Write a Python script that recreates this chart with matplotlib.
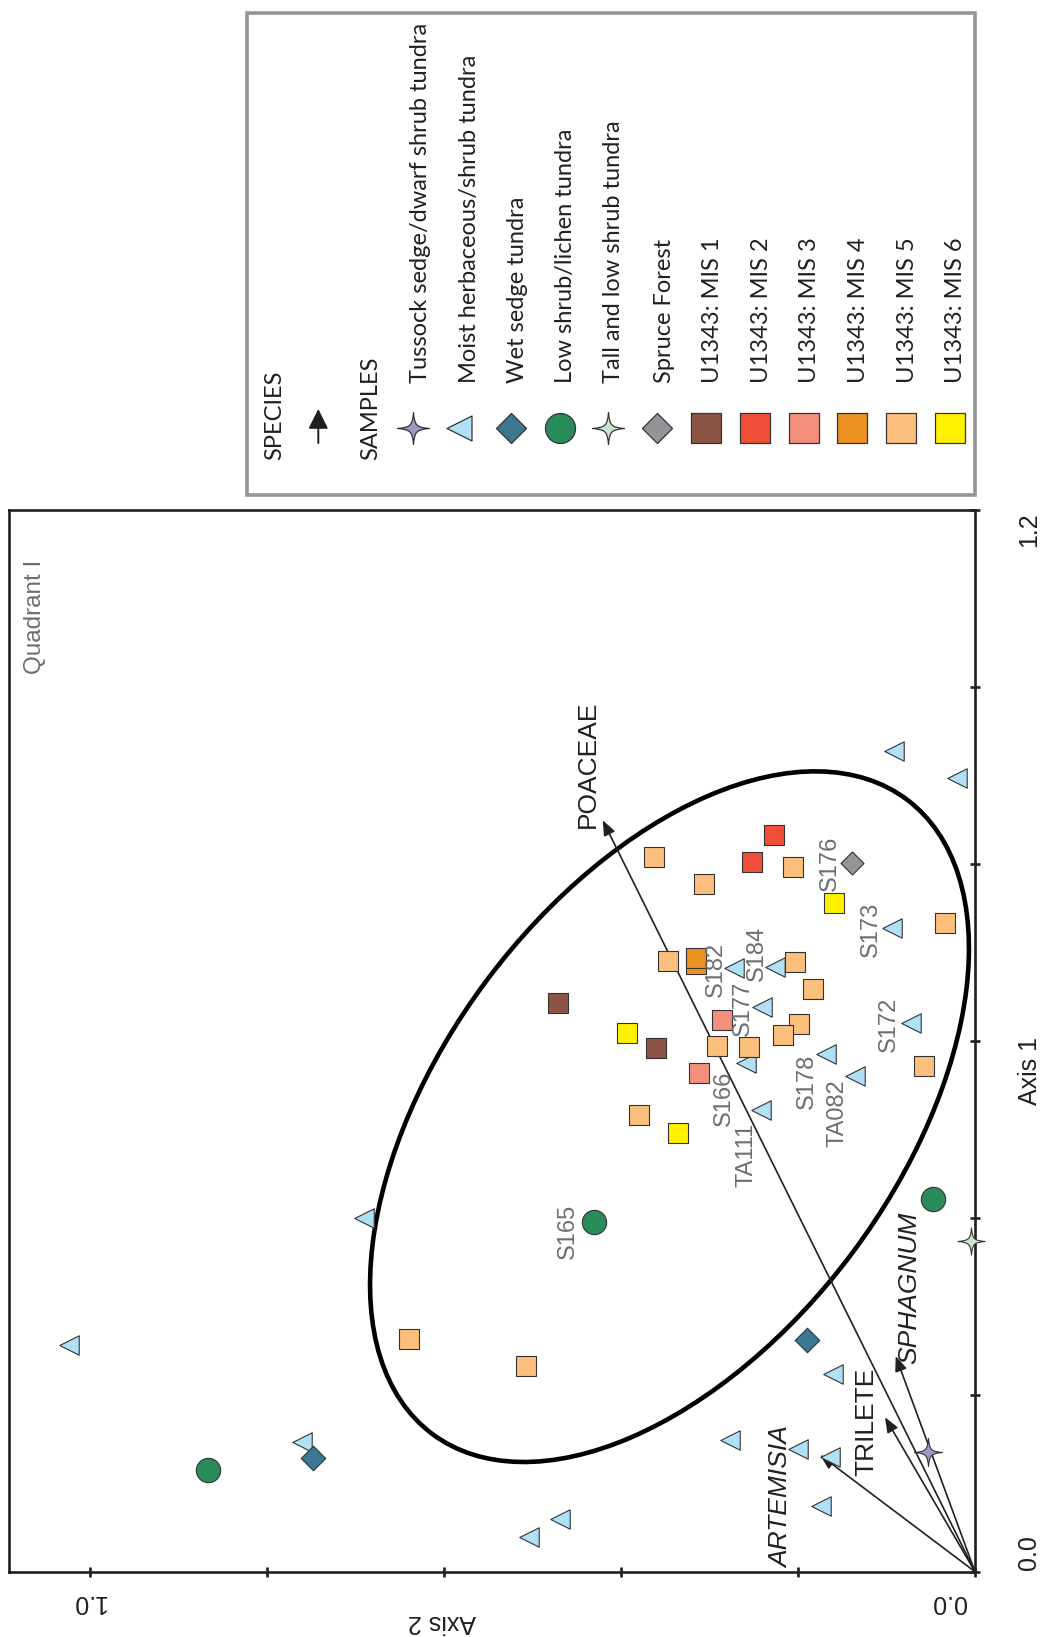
import matplotlib
matplotlib.use("Agg")
import matplotlib.pyplot as plt
from matplotlib.patches import Ellipse, Rectangle
from matplotlib.path import Path

# ---------------- ordination scores (Axis 1 vertical, Axis 2 horizontal) ----------------
moist_ax2 = [0.0912, 0.0207, 0.0934, 0.2727, 0.2256, 0.2403, 0.0727, 0.2591, 0.1680, 0.1356,
             0.2421, 0.6907, 0.1601, 0.2768, 0.1997, 0.1638, 0.1744, 0.4686, 0.5040, 1.0237, 0.7608]
moist_ax1 = [0.9281, 0.8972, 0.7281, 0.6818, 0.6833, 0.6384, 0.6206, 0.5748, 0.5853, 0.5605,
             0.5217, 0.4000, 0.2234, 0.1485, 0.1383, 0.1293, 0.0746, 0.0595, 0.0395, 0.2565, 0.1462]

tussock_ax2 = [0.0528]
tussock_ax1 = [0.1356]
wet_ax2 = [0.1895, 0.7484]
wet_ax1 = [0.2615, 0.1288]
lowshrub_ax2 = [0.4308, 0.0471, 0.8663]
lowshrub_ax1 = [0.3951, 0.4215, 0.1149]
tall_ax2 = [0.0045]
tall_ax1 = [0.3737]
spruce_ax2 = [0.1386]
spruce_ax1 = [0.8008]

mis1_ax2 = [0.4708, 0.3608]
mis1_ax1 = [0.6429, 0.5914]
mis2_ax2 = [0.2271, 0.2523]
mis2_ax1 = [0.8328, 0.8027]
mis3_ax2 = [0.2862, 0.3119]
mis3_ax1 = [0.6234, 0.5638]
mis4_ax2 = [0.3149, 0.3149]
mis4_ax1 = [0.6867, 0.6931]
mis5_ax2 = [0.3627, 0.2053, 0.3062, 0.0339, 0.3466, 0.2031, 0.1831, 0.1989, 0.2166, 0.2915,
            0.2554, 0.0580, 0.3793, 0.6392, 0.5077]
mis5_ax1 = [0.8079, 0.7966, 0.7778, 0.7327, 0.6897, 0.6893, 0.6581, 0.6185, 0.6068, 0.5937,
            0.5929, 0.5711, 0.5161, 0.2633, 0.2328]
mis6_ax2 = [0.1593, 0.3936, 0.3353]
mis6_ax1 = [0.7553, 0.6090, 0.4960]

# labelled modern samples: name, Axis 2, Axis 1
sample_names = ["S176", "S173", "S182", "S184", "S177", "S172", "S166", "S178", "TA082", "TA111", "S165"]
sample_ax2 = [0.1386, 0.0934, 0.2727, 0.2256, 0.2403, 0.0727, 0.2591, 0.1680, 0.1356, 0.2421, 0.4308]
sample_ax1 = [0.8008, 0.7281, 0.6818, 0.6833, 0.6384, 0.6206, 0.5748, 0.5853, 0.5605, 0.5217, 0.3951]

# species vectors
species_names = ["POACEAE", "ARTEMISIA", "TRILETE", "SPHAGNUM"]
species_ax2 = [0.4207, 0.1751, 0.1017, 0.0896]
species_ax1 = [0.8494, 0.1319, 0.1745, 0.2437]
species_italic = [False, True, False, True]

# 95% confidence ellipse of the core samples
ell_center = (0.3452, 0.5143)
ell_width, ell_height, ell_angle = 0.8954, 0.5153, 126.8

legend_labels = ["Tussock sedge/dwarf shrub tundra", "Moist herbaceous/shrub tundra",
                 "Wet sedge tundra", "Low shrub/lichen tundra", "Tall and low shrub tundra",
                 "Spruce Forest", "U1343: MIS 1", "U1343: MIS 2", "U1343: MIS 3",
                 "U1343: MIS 4", "U1343: MIS 5", "U1343: MIS 6"]

# ---------------- styling ----------------
INK = "#231f20"
GREY_TXT = "#6d6e71"
EDGE = "#333333"
C_TUSSOCK = "#9d98c9"
C_MOIST = "#b0e0f5"
C_WET = "#3b7893"
C_LOW = "#298a5a"
C_TALL = "#c8e6cf"
C_SPRUCE = "#949598"
C_MIS = ["#8c5444", "#ef4e37", "#f48f7b", "#eb9223", "#fdbf7d", "#fff100"]
PFONT = "Liberation Sans"
LFONT = ["Lato", "DejaVu Sans"]


def sparkle():
    verts = [(0, 1),
             (0.08, 0.18), (0.18, 0.08), (1, 0),
             (0.18, -0.08), (0.08, -0.18), (0, -1),
             (-0.08, -0.18), (-0.18, -0.08), (-1, 0),
             (-0.18, 0.08), (-0.08, 0.18), (0, 1),
             (0, 1)]
    codes = [Path.MOVETO] + [Path.CURVE4] * 12 + [Path.CLOSEPOLY]
    return Path(verts, codes)


STAR = sparkle()

W, H, DPI = 1046, 1637, 100
fig = plt.figure(figsize=(W / DPI, H / DPI), dpi=DPI)

# main ordination panel (pixel frame: x 9..975, y 510..1572)
ax = fig.add_axes([9 / W, (H - 1571.7) / H, 966 / W, 1061.7 / H])
ax.set_xlim(966 / 885, 0)
ax.set_ylim(0, 1.2)
for sp in ax.spines.values():
    sp.set_linewidth(1.9)
    sp.set_color(INK)
ax.xaxis.tick_bottom()
ax.yaxis.tick_right()
ax.set_xticks([0, 0.2, 0.4, 0.6, 0.8, 1.0])
ax.set_yticks([0, 0.2, 0.4, 0.6, 0.8, 1.0, 1.2])
ax.set_xticklabels([])
ax.set_yticklabels([])
ax.tick_params(direction="inout", length=7, width=1.9, color=INK)

# ellipse
ax.add_patch(Ellipse(ell_center, ell_width, ell_height, angle=ell_angle,
                     fill=False, lw=3.3, ec="black", zorder=2))

# species arrows
for nm, x, y in zip(species_names, species_ax2, species_ax1):
    ax.annotate("", xy=(x, y), xytext=(0, 0),
                arrowprops=dict(arrowstyle="-|>,head_length=0.5,head_width=0.2",
                                color=INK, lw=1.2, mutation_scale=18,
                                shrinkA=0, shrinkB=0), zorder=3)

sp_offsets = {"POACEAE": (-15, -56), "ARTEMISIA": (-39, 42),
              "TRILETE": (-19, 5), "SPHAGNUM": (14, -68)}
for nm, x, y, it in zip(species_names, species_ax2, species_ax1, species_italic):
    dx, dy = sp_offsets[nm]
    ax.annotate(nm, xy=(x, y), xytext=(dx * 0.72, -dy * 0.72), textcoords="offset points",
                rotation=90, ha="center", va="center", fontsize=19, family=PFONT,
                style="italic" if it else "normal", color=INK, zorder=6)

sc = dict(edgecolors=EDGE, linewidths=0.8, zorder=4)
ax.scatter(moist_ax2, moist_ax1, marker="<", s=14 ** 2, c=C_MOIST, **sc)
for xs, ys, col in zip([mis1_ax2, mis2_ax2, mis3_ax2, mis4_ax2, mis5_ax2, mis6_ax2],
                       [mis1_ax1, mis2_ax1, mis3_ax1, mis4_ax1, mis5_ax1, mis6_ax1], C_MIS):
    ax.scatter(xs, ys, marker="s", s=14.4 ** 2, c=col, **sc)
ax.scatter(spruce_ax2, spruce_ax1, marker="D", s=11.7 ** 2, c=C_SPRUCE, **sc)
ax.scatter(wet_ax2, wet_ax1, marker="D", s=12.5 ** 2, c=C_WET, **sc)
ax.scatter(lowshrub_ax2, lowshrub_ax1, marker="o", s=17.5 ** 2, c=C_LOW, **sc)
ax.scatter(tussock_ax2, tussock_ax1, marker=STAR, s=20 ** 2, c=C_TUSSOCK, **sc)
ax.scatter(tall_ax2, tall_ax1, marker=STAR, s=19.5 ** 2, c=C_TALL, clip_on=False, **sc)

smp_offsets = {"S176": (-22, 0), "S173": (-21, 2), "S182": (-18, 1), "S184": (-18, -14),
               "S177": (-19, 1), "S172": (-22, 2), "S166": (-22, 35), "S178": (-19, 28),
               "TA082": (-17, 37), "TA111": (-14, 45), "S165": (-26, 9)}
for nm, x, y in zip(sample_names, sample_ax2, sample_ax1):
    dx, dy = smp_offsets[nm]
    ax.annotate(nm, xy=(x, y), xytext=(dx * 0.72, -dy * 0.72), textcoords="offset points",
                rotation=90, ha="center", va="center", fontsize=17, family=PFONT,
                color=GREY_TXT, zorder=6)

# axis annotations
tk = dict(fontsize=18, family=PFONT, color=INK, ha="center", va="center", clip_on=False)
ax.text(-0.0610, 1.1780, "1.2", rotation=90, **tk)
ax.text(-0.0610, 0.0217, "0.0", rotation=90, **tk)
ax.text(-0.0618, 0.5658, "Axis 1", rotation=90, **tk)
ax.text(1.0011, -0.0339, "1.0", rotation=180, **tk)
ax.text(0.0294, -0.0339, "0.0", rotation=180, **tk)
ax.text(0.6017, -0.0565, "Axis 2", rotation=180, **tk)
ax.text(1.0621, 1.0788, "Quadrant I", rotation=90, fontsize=17.5, family=PFONT,
        color=GREY_TXT, ha="center", va="center")

# ---------------- legend panel (figure pixel frame) ----------------
lg = fig.add_axes([0, 0, 1, 1], zorder=5)
lg.set_xlim(0, W)
lg.set_ylim(H, 0)
lg.axis("off")
lg.add_patch(Rectangle((247, 13), 728, 482, fill=False, ec="#939598", lw=2.6))

lt = dict(fontsize=17, family=LFONT, color=INK, rotation=90, ha="center", va="bottom")
lg.text(275, 460, "SPECIES", **lt)
lg.annotate("", xy=(318.3, 409), xytext=(318.3, 443),
            arrowprops=dict(arrowstyle="-|>,head_length=0.6,head_width=0.3",
                            color=INK, lw=1.4, mutation_scale=20, shrinkA=0, shrinkB=0))
lg.text(371, 460, "SAMPLES", **lt)

col_x = [420.8, 469.2, 517.5, 565.8, 614, 664.2, 712.5, 761, 810, 858.5, 907, 955.7]
mk_x = [413.3, 458.7, 511, 560, 608.3, 657.3, 706, 755, 803.7, 852.3, 901, 950]
mk_style = [(STAR, 22.8, C_TUSSOCK), ("<", 18, C_MOIST), ("D", 15.3, C_WET),
            ("o", 21.6, C_LOW), (STAR, 22.8, C_TALL), ("D", 15.3, C_SPRUCE)] + \
           [("s", 21.6, c) for c in C_MIS]
for tx, mx, lab, (mk, ms, col) in zip(col_x, mk_x, legend_labels, mk_style):
    lg.scatter([mx], [427.7], marker=mk, s=ms ** 2, c=col, edgecolors=EDGE, linewidths=0.9)
    lg.text(tx, 383.3, lab, **lt)

fig.savefig("out.png", dpi=DPI)
